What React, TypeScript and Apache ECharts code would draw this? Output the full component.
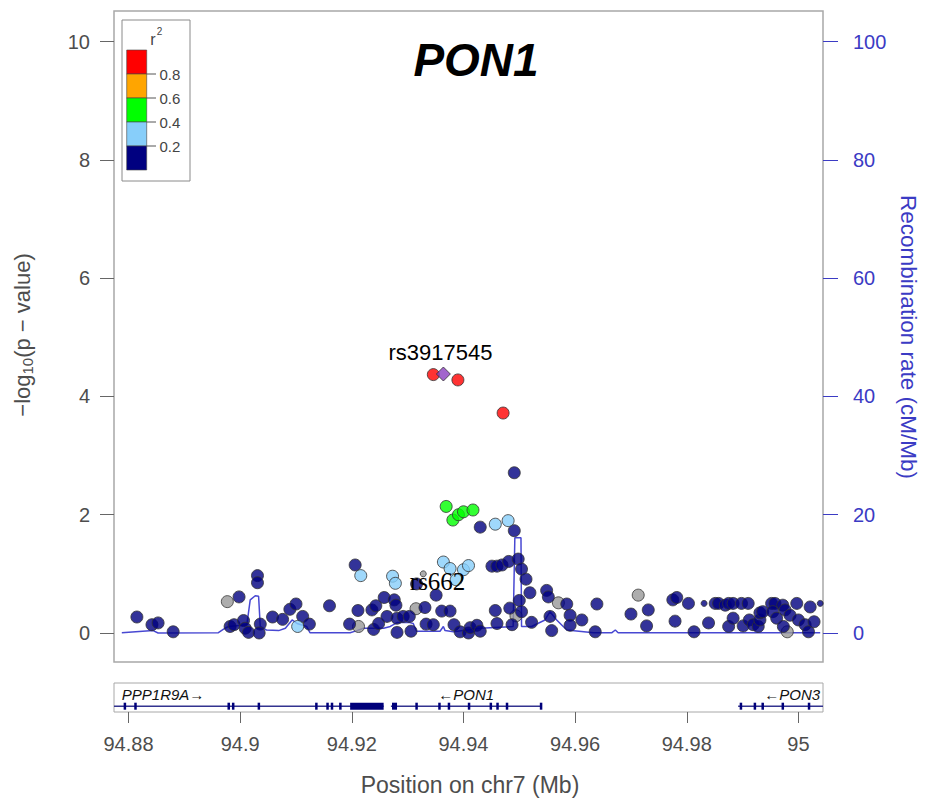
import React, { useEffect, useRef } from "react";
import * as echarts from "echarts";

// ---------- axis ranges & ticks ----------
const X_MIN = 94.8774;
const X_MAX = 95.0044;
const xTicks = [94.88, 94.9, 94.92, 94.94, 94.96, 94.98, 95];
const yTicks = [0, 2, 4, 6, 8, 10];
const recTicks = [0, 20, 40, 60, 80, 100];

// ---------- legend ----------
const r2Colors = ["#FF0000", "#FFA500", "#00FF00", "#87CEFA", "#000080"];
const r2Breaks = ["0.8", "0.6", "0.4", "0.2"];

// ---------- SNPs: [position (Mb), -log10 p] ----------
const leadSnp = [94.9364, 4.38];
const leadName = "rs3917545";
const labelSnp = [94.9316, 0.83];
const labelName = "rs662";

const redSnps = [
  [94.9346, 4.37], [94.9390, 4.28], [94.9471, 3.72],
];
const greenSnps = [
  [94.9369, 2.14], [94.9381, 1.91], [94.9391, 2.0], [94.94, 2.05], [94.9417, 2.08],
];
const lightBlueSnps = [
  [94.9103, 0.11], [94.9216, 0.97], [94.9273, 0.96], [94.9278, 0.84], [94.9364, 1.2],
  [94.9376, 1.09], [94.94, 1.07], [94.9409, 1.14], [94.9387, 0.9], [94.9457, 1.84],
  [94.948, 1.9],
];
const graySnps = [
  [94.8977, 0.53], [94.9212, 0.11], [94.9315, 0.41], [94.9494, 0.29], [94.957, 0.51],
  [94.9713, 0.64], [94.998, 0.02],
];
const graySmallSnps = [[94.9328, 1.0]];
const navySmallSnps = [[94.9831, 0.5], [95.0039, 0.5]];
const navySnps = [
  [94.8815, 0.27], [94.8842, 0.14], [94.8853, 0.17], [94.888, 0.02], [94.8998, 0.61],
  [94.9031, 0.97], [94.9031, 0.85], [94.8982, 0.11], [94.8989, 0.14], [94.9006, 0.21],
  [94.9009, 0.08], [94.9015, 0.01], [94.9036, 0.15], [94.9034, 0.0], [94.9058, 0.27],
  [94.9076, 0.23], [94.9089, 0.4], [94.91, 0.49], [94.9112, 0.28], [94.9124, 0.15],
  [94.916, 0.46], [94.9206, 1.15], [94.9196, 0.15], [94.9211, 0.38], [94.9236, 0.39],
  [94.9243, 0.46], [94.9258, 0.6], [94.9239, 0.06], [94.9248, 0.16], [94.9263, 0.28],
  [94.9276, 0.56], [94.9279, 0.47], [94.9281, 0.25], [94.9281, 0.01], [94.9292, 0.28],
  [94.9303, 0.28], [94.9306, 0.03], [94.9331, 0.43], [94.9351, 0.64], [94.9361, 0.37],
  [94.9376, 0.37], [94.9333, 0.15], [94.9346, 0.14], [94.9383, 0.14], [94.9394, 0.02],
  [94.9409, 0.0], [94.9412, 0.09], [94.9424, 0.13], [94.943, 0.03],
  [94.943, 1.79], [94.9491, 2.71], [94.9491, 1.73], [94.9451, 1.13], [94.946, 1.13],
  [94.9469, 1.15], [94.9481, 1.21], [94.9498, 1.25], [94.9504, 1.08], [94.9512, 0.91],
  [94.9519, 0.68], [94.9549, 0.72], [94.9552, 0.61], [94.95, 0.55], [94.9483, 0.42],
  [94.9457, 0.38], [94.9504, 0.36], [94.9487, 0.14], [94.946, 0.16], [94.9522, 0.18],
  [94.9555, 0.28], [94.9558, 0.04], [94.9585, 0.49], [94.9591, 0.3], [94.9591, 0.13],
  [94.9612, 0.22], [94.9639, 0.49], [94.9636, 0.02], [94.97, 0.32], [94.9731, 0.39],
  [94.9728, 0.12], [94.9775, 0.56], [94.9782, 0.6], [94.9803, 0.5], [94.9779, 0.2],
  [94.9813, 0.02], [94.9839, 0.17], [94.9851, 0.5], [94.9857, 0.5], [94.9869, 0.47],
  [94.9875, 0.5], [94.9883, 0.5], [94.9898, 0.5], [94.991, 0.5], [94.9952, 0.5],
  [94.9958, 0.5], [94.9972, 0.47], [94.9997, 0.5], [95.0021, 0.44], [94.9875, 0.11],
  [94.9883, 0.25], [94.9901, 0.12], [94.9912, 0.22], [94.9919, 0.14], [94.9928, 0.11],
  [94.9931, 0.22], [94.9931, 0.34], [94.9936, 0.36], [94.9954, 0.36], [94.9961, 0.25],
  [94.9973, 0.11], [94.9976, 0.39], [94.9985, 0.3], [95.0, 0.22], [95.0012, 0.14],
  [95.0018, 0.02], [95.0028, 0.19],
];

// ---------- recombination rate: [position (Mb), cM/Mb] ----------
const recombRate = [
  [94.8788, 0.05], [94.8844, 0.4], [94.8853, 0.0], [94.8961, 0.05], [94.8973, 0.8],
  [94.8979, 1.1], [94.9012, 1.4], [94.9018, 5.6], [94.9027, 6.3], [94.9033, 6.2],
  [94.9036, 1.1], [94.9047, 0.5], [94.9069, 0.4], [94.9081, 0.8], [94.9093, 2.2],
  [94.9102, 1.6], [94.9119, 1.1], [94.9125, 0.05], [94.9197, 0.05], [94.9209, 0.4],
  [94.9221, 0.8], [94.9257, 0.8], [94.9269, 1.1], [94.9281, 1.75], [94.9304, 1.75],
  [94.931, 1.6], [94.9316, 0.3], [94.9358, 0.3], [94.9364, 1.1], [94.9367, 0.4],
  [94.9382, 0.2], [94.943, 0.8], [94.9489, 1.1], [94.9492, 16.1], [94.9503, 16.1],
  [94.9504, 1.1], [94.9522, 1.1], [94.9546, 2.2], [94.9555, 3.6], [94.9567, 2.2],
  [94.9585, 0.5], [94.9633, 0.05], [94.9666, 0.05], [94.9672, 0.5], [94.9677, 0.05],
  [95.0039, 0.05],
];

// ---------- genes ----------
const geneLabels = ["PPP1R9A\u2192", "\u2190PON1", "\u2190PON3"];
const geneStarts = [94.5365, 94.927, 94.9892];
const geneEnds = [94.9257, 94.9539, 95.0257];
const geneLabelAt = [94.8788, 94.9405, 95.0039];
const geneLabelAlign = ["left", "center", "right"];
const geneExons = [
  [[94.8792, 94.8795], [94.8811, 94.8814], [94.8978, 94.8981], [94.8986, 94.8989],
   [94.9032, 94.9035], [94.9135, 94.9138], [94.9155, 94.9158], [94.9163, 94.9166],
   [94.9178, 94.9181], [94.9197, 94.9257]],
  [[94.9272, 94.9281], [94.9315, 94.9317], [94.9356, 94.9358], [94.9373, 94.9375],
   [94.9409, 94.9411], [94.9448, 94.945], [94.946, 94.9462], [94.9477, 94.9479],
   [94.9538, 94.954]],
  [[94.9896, 94.9898], [94.9921, 94.9923], [94.9935, 94.9937], [94.9971, 94.9973],
   [95.0018, 95.002]],
];

const SANS = "Liberation Sans";
const AXIS_GRAY = "#4d4d4d";
const REC_BLUE = "#3b3bc4";

export default function App() {
  const ref = useRef<HTMLDivElement>(null);

  useEffect(() => {
    if (!ref.current) return;
    const chart = echarts.init(ref.current, undefined, { renderer: "svg" });

    const scatter = (data: any[], color: string, size: number, z = 3, extra: any = {}) => ({
      type: "scatter",
      xAxisIndex: 0,
      yAxisIndex: 0,
      data,
      symbolSize: size,
      z,
      itemStyle: { color, borderColor: "#333333", borderWidth: 1 },
      ...extra,
    });

    const fmtX = (v: number) => String(Math.round(v * 100) / 100);

    const legendChildren: any[] = [
      {
        type: "rect",
        shape: { x: 122, y: 20, width: 68, height: 161 },
        style: { fill: "#fff", stroke: "#8a8a8a", lineWidth: 1 },
      },
      { type: "text", x: 153, y: 39, style: { text: "r", fontSize: 16, fontFamily: SANS, fill: "#444", align: "center", verticalAlign: "middle" } },
      { type: "text", x: 159.5, y: 31, style: { text: "2", fontSize: 10, fontFamily: SANS, fill: "#444", align: "center", verticalAlign: "middle" } },
    ];
    r2Colors.forEach((c, i) => {
      legendChildren.push({
        type: "rect",
        shape: { x: 126.7, y: 50 + 24 * i, width: 20, height: 24 },
        style: { fill: c, stroke: "#444", lineWidth: 0.6 },
      });
    });
    r2Breaks.forEach((b, i) => {
      const yy = 74 + 24 * i;
      legendChildren.push({
        type: "line",
        shape: { x1: 146.7, y1: yy, x2: 156, y2: yy },
        style: { stroke: "#555", lineWidth: 1 },
      });
      legendChildren.push({
        type: "text",
        x: 159.5,
        y: yy,
        style: { text: b, fontSize: 15, fontFamily: SANS, fill: "#444", align: "left", verticalAlign: "middle" },
      });
    });

    const graphics: any[] = [
      {
        type: "text",
        x: 476,
        y: 60,
        style: { text: "PON1", font: "italic bold 46px 'Liberation Sans'", fill: "#000", align: "center", verticalAlign: "middle" },
      },
      {
        type: "text",
        x: 22,
        y: 335,
        rotation: Math.PI / 2,
        style: {
          text: "{a|\u2212log}{s|10}{a|(p \u2212 value)}",
          align: "center",
          verticalAlign: "middle",
          fontFamily: SANS,
          fill: AXIS_GRAY,
          rich: {
            a: { fontSize: 22, lineHeight: 26, fontFamily: SANS, fill: AXIS_GRAY },
            s: { fontSize: 15, lineHeight: 14, verticalAlign: "bottom", fontFamily: SANS, fill: AXIS_GRAY },
          },
        },
      },
      {
        type: "text",
        x: 908,
        y: 337,
        rotation: -Math.PI / 2,
        style: { text: "Recombination rate (cM/Mb)", fontSize: 22.5, fontFamily: SANS, fill: REC_BLUE, align: "center", verticalAlign: "middle" },
      },
      {
        type: "text",
        x: 470,
        y: 785,
        style: { text: "Position on chr7 (Mb)", fontSize: 23, fontFamily: SANS, fill: AXIS_GRAY, align: "center", verticalAlign: "middle" },
      },
      { type: "group", children: legendChildren, z: 100 },
    ];

    const option: any = {
      animation: false,
      backgroundColor: "#fff",
      grid: [
        { left: 114, top: 11, width: 709, height: 651, show: true, borderColor: "#a8a8a8", borderWidth: 1.5, backgroundColor: "transparent" },
        { left: 114, top: 683, width: 709, height: 29, show: true, borderColor: "#a8a8a8", borderWidth: 1, backgroundColor: "transparent" },
      ],
      xAxis: [
        { type: "value", gridIndex: 0, min: X_MIN, max: X_MAX, show: false },
        {
          type: "value",
          gridIndex: 1,
          min: X_MIN,
          max: X_MAX,
          axisLine: { show: false },
          splitLine: { show: false },
          axisTick: { show: true, length: 11, customValues: xTicks, lineStyle: { color: "#666", width: 1 } },
          axisLabel: { customValues: xTicks, formatter: fmtX, fontSize: 20, fontFamily: SANS, color: AXIS_GRAY, margin: 22 },
        },
      ],
      yAxis: [
        {
          type: "value",
          gridIndex: 0,
          position: "left",
          min: -0.491,
          max: 10.52,
          axisLine: { show: false },
          splitLine: { show: false },
          axisTick: { show: true, length: 14, customValues: yTicks, lineStyle: { color: "#666", width: 1 } },
          axisLabel: { customValues: yTicks, fontSize: 20, fontFamily: SANS, color: AXIS_GRAY, margin: 24 },
        },
        {
          type: "value",
          gridIndex: 0,
          position: "right",
          min: -4.91,
          max: 105.2,
          axisLine: { show: false },
          splitLine: { show: false },
          axisTick: { show: true, length: 15, customValues: recTicks, lineStyle: { color: REC_BLUE, width: 1 } },
          axisLabel: { customValues: recTicks, fontSize: 20, fontFamily: SANS, color: REC_BLUE, margin: 30 },
        },
        { type: "value", gridIndex: 1, min: 0, max: 1, show: false },
      ],
      graphic: graphics,
      series: [
        {
          type: "line",
          xAxisIndex: 0,
          yAxisIndex: 1,
          data: recombRate,
          showSymbol: false,
          symbol: "none",
          lineStyle: { color: "#4848d2", width: 1.5 },
          z: 2,
        },
        scatter(graySnps, "#999999", 12),
        scatter(graySmallSnps, "#999999", 6),
        scatter(navySnps, "#000080", 12),
        scatter(navySmallSnps, "#000080", 6),
        scatter([labelSnp], "#000080", 12),
        scatter(lightBlueSnps, "#87CEFA", 12),
        scatter(greenSnps, "#00FF00", 12),
        scatter(redSnps, "#FF0000", 12),
        scatter([leadSnp], "#8B3FC0", 14, 6, { symbol: "diamond" }),
        {
          type: "custom",
          xAxisIndex: 1,
          yAxisIndex: 2,
          data: geneStarts.map((s, i) => [s, geneEnds[i], i]),
          encode: { x: [0, 1] },
          renderItem: (params: any, api: any) => {
            const gi = api.value(2);
            const cs = params.coordSys;
            const left = cs.x;
            const right = cs.x + cs.width;
            const yLine = api.coord([X_MIN, 0.2])[1];
            const yLabel = api.coord([X_MIN, 0.6])[1];
            const x0 = Math.max(api.coord([api.value(0), 0])[0], left);
            const x1 = Math.min(api.coord([api.value(1), 0])[0], right);
            const children: any[] = [
              { type: "rect", shape: { x: x0, y: yLine - 0.8, width: x1 - x0, height: 1.6 }, style: { fill: "#33338f" } },
            ];
            geneExons[gi].forEach(([a, b]: number[]) => {
              const ea = api.coord([a, 0])[0];
              const eb = api.coord([b, 0])[0];
              const w = Math.max(eb - ea, 2.5);
              children.push({
                type: "rect",
                shape: { x: (ea + eb) / 2 - w / 2, y: yLine - 3.5, width: w, height: 7 },
                style: { fill: "#00007a" },
              });
            });
            const lx = api.coord([geneLabelAt[gi], 0])[0];
            children.push({
              type: "text",
              x: lx,
              y: yLabel,
              style: {
                text: geneLabels[gi],
                fontSize: 15,
                fontStyle: "italic",
                fontFamily: SANS,
                fill: "#111",
                align: geneLabelAlign[gi],
                verticalAlign: "middle",
              },
            });
            return { type: "group", children };
          },
          z: 3,
        },
      ],
    };

    chart.setOption(option);

    // SNP name labels placed at their SNPs via the chart's own scales
    const toPx = (v: number[]) => chart.convertToPixel({ xAxisIndex: 0, yAxisIndex: 0 }, v as any) as any;
    const pLead = toPx(leadSnp);
    const pLabel = toPx(labelSnp);
    const extra: any[] = [];
    if (pLead) {
      extra.push({
        type: "text",
        x: pLead[0] - 3,
        y: pLead[1] - 22,
        z: 200,
        style: { text: leadName, font: "normal 22px 'Liberation Sans'", fill: "#000", align: "center", verticalAlign: "middle" },
      });
    }
    if (pLabel) {
      extra.push({
        type: "text",
        x: pLabel[0] + 21,
        y: pLabel[1] - 2,
        z: 200,
        style: { text: labelName, font: "normal 25px 'Liberation Serif'", fill: "#000", align: "center", verticalAlign: "middle" },
      });
    }
    chart.setOption({ graphic: [...graphics, ...extra] });

    return () => chart.dispose();
  }, []);

  return (
    <div
      ref={ref}
      style={{ position: "fixed", left: 0, top: 0, width: 925, height: 798, background: "#fff" }}
    />
  );
}
